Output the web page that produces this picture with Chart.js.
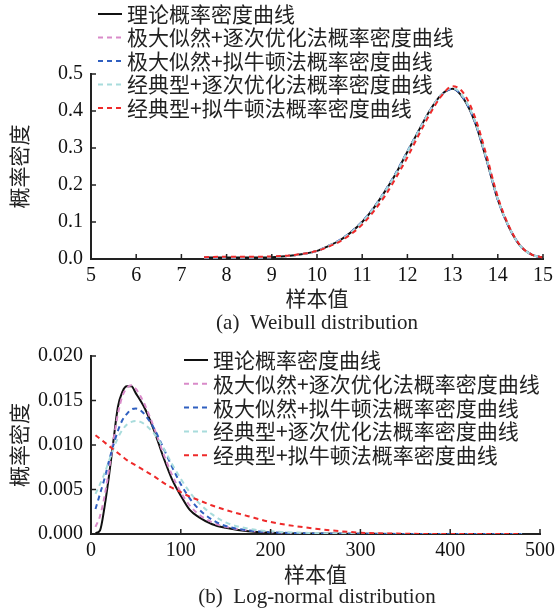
<!DOCTYPE html>
<html><head><meta charset="utf-8">
<script src="https://cdn.jsdelivr.net/npm/chart.js@4.4.1/dist/chart.umd.min.js"></script>
<style>
html,body{margin:0;padding:0;background:#fff;}
#wrap{position:relative;width:560px;height:615px;overflow:hidden;}
canvas{position:absolute;left:0;}
#c1{top:0;} #c2{top:336px;}
</style></head><body>
<div id="wrap"><canvas id="c1" width="560" height="336"></canvas><canvas id="c2" width="560" height="279"></canvas></div>
<script>
const seriesLabels = ['理论概率密度曲线','极大似然+逐次优化法概率密度曲线','极大似然+拟牛顿法概率密度曲线','经典型+逐次优化法概率密度曲线','经典型+拟牛顿法概率密度曲线'];
const axisXTitle = '样本值';
const axisYTitle = '概率密度';
const captionA = '(a)  Weibull distribution';
const captionB = '(b)  Log-normal distribution';

// (a) Weibull
const weibullX =      [7.5,8,8.5,9,9.5,10,10.25,10.5,10.75,11,11.25,11.5,11.75,12,12.25,12.5,12.75,13,13.25,13.5,13.75,14,14.25,14.5,14.75,15];
const weibullTheory = [0.004,0.004,0.004,0.005,0.010,0.022,0.035,0.050,0.072,0.100,0.137,0.182,0.232,0.290,0.347,0.402,0.444,0.460,0.432,0.368,0.268,0.160,0.085,0.035,0.012,0.004];
const weibullMLSO =   [0.004,0.004,0.004,0.005,0.010,0.022,0.035,0.051,0.073,0.101,0.138,0.183,0.233,0.290,0.346,0.401,0.443,0.461,0.434,0.370,0.270,0.161,0.086,0.035,0.012,0.004];
const weibullMLQN =   [0.004,0.004,0.004,0.005,0.010,0.022,0.035,0.051,0.073,0.101,0.138,0.183,0.234,0.291,0.347,0.401,0.443,0.460,0.433,0.369,0.269,0.161,0.085,0.035,0.012,0.004];
const weibullCLSO =   [0.004,0.004,0.004,0.005,0.010,0.022,0.035,0.050,0.072,0.100,0.137,0.182,0.232,0.290,0.346,0.401,0.444,0.462,0.435,0.371,0.271,0.162,0.086,0.035,0.012,0.004];
const weibullCLQN =   [0.005,0.006,0.006,0.007,0.011,0.022,0.033,0.047,0.067,0.093,0.128,0.170,0.220,0.275,0.335,0.392,0.440,0.467,0.447,0.382,0.280,0.168,0.088,0.036,0.012,0.004];
const weibullXTicks = [5,6,7,8,9,10,11,12,13,14,15];
const weibullYTicks = [0,0.1,0.2,0.3,0.4,0.5];

// (b) Log-normal
const lognormX =      [5,10,15,20,25,30,35,40,45,50,55,60,70,80,90,100,110,120,135,150,175,200,250,300,350,400,450,480];
const lognormTheory = [0.0001,0.0004,0.0030,0.0065,0.0105,0.0143,0.0160,0.0166,0.0166,0.0158,0.0150,0.0141,0.0117,0.0088,0.0062,0.0043,0.0027,0.0019,0.0011,0.0007,0.0003,0.00015,0.00005,0.00002,0,0,0,0];
const lognormMLSO =   [0.0008,0.0020,0.0042,0.0072,0.0105,0.0135,0.0155,0.0164,0.0167,0.0163,0.0155,0.0145,0.0120,0.0092,0.0067,0.0047,0.0032,0.0022,0.0013,0.0008,0.0004,0.0002,0.00005,0,0,0,0,0];
const lognormMLQN =   [0.0028,0.0045,0.0062,0.0082,0.0100,0.0116,0.0128,0.0135,0.0140,0.0141,0.0139,0.0134,0.0119,0.0098,0.0076,0.0056,0.0040,0.0028,0.0016,0.0009,0.0004,0.0002,0.00006,0.00002,0,0,0,0];
const lognormCLSO =   [0.0045,0.0056,0.0068,0.0082,0.0096,0.0108,0.0117,0.0123,0.0126,0.0127,0.0126,0.0123,0.0113,0.0098,0.0079,0.0062,0.0047,0.0035,0.0022,0.0013,0.0006,0.0003,0.0001,0.00003,0,0,0,0];
const lognormCLQN =   [0.0111,0.0107,0.0103,0.0099,0.0095,0.0091,0.0087,0.0083,0.0080,0.0077,0.0074,0.0071,0.0065,0.0058,0.0052,0.0047,0.0042,0.0038,0.0032,0.0027,0.0020,0.00135,0.0006,0.00015,0.00003,0,0,0];
const lognormXTicks = [0,100,200,300,400,500];
const lognormYTicks = [0,0.005,0.010,0.015,0.020];

const styles = [
  {color:'#111111', dash:[], width:2, order:4},
  {color:'#d98bc9', dash:[5,4], width:2, order:3},
  {color:'#2f5fc0', dash:[5,4], width:2, order:2},
  {color:'#a8dcdc', dash:[5,4], width:2, order:1},
  {color:'#ee2a2a', dash:[5,4], width:2, order:0}
];

function makeDatasets(xs, seriesList){
  return seriesList.map((ys,i)=>({
    label: seriesLabels[i],
    data: xs.map((x,j)=>({x:x,y:ys[j]})),
    borderColor: styles[i].color,
    borderDash: styles[i].dash,
    borderWidth: styles[i].width,
    order: styles[i].order,
    pointRadius: 0,
    fill: false,
    cubicInterpolationMode: 'monotone'
  }));
}

const deco = {
  id:'deco',
  afterDatasetsDraw(chart, args, o){
    const ctx=chart.ctx, a=chart.chartArea;
    const xs=chart.scales.x, ys=chart.scales.y;
    ctx.save();
    ctx.strokeStyle='#222'; ctx.lineWidth=1.5; ctx.setLineDash([]);
    xs.ticks.forEach(t=>{const p=xs.getPixelForValue(t.value); ctx.beginPath(); ctx.moveTo(p,a.bottom); ctx.lineTo(p,a.bottom-5); ctx.stroke();});
    ys.ticks.forEach(t=>{const p=ys.getPixelForValue(t.value); ctx.beginPath(); ctx.moveTo(a.left,p); ctx.lineTo(a.left+5,p); ctx.stroke();});
    // legend
    ctx.font='21px "Noto Sans CJK SC"';
    ctx.textBaseline='middle'; ctx.textAlign='left';
    chart.data.datasets.forEach((ds,i)=>{
      const y=o.legendY+i*o.legendDY;
      ctx.strokeStyle=ds.borderColor; ctx.lineWidth=2; ctx.setLineDash(ds.borderDash||[]);
      ctx.beginPath(); ctx.moveTo(o.legendX,y); ctx.lineTo(o.legendX+24,y); ctx.stroke();
      ctx.setLineDash([]);
      ctx.fillStyle='#222'; ctx.fillText(ds.label,o.legendX+29,y);
    });
    // axis titles
    ctx.fillStyle='#222';
    ctx.textAlign='center';
    ctx.font='21px "Noto Sans CJK SC"';
    ctx.fillText(axisXTitle,(a.left+a.right)/2,o.xTitleY);
    ctx.save();
    ctx.translate(19,(a.top+a.bottom)/2);
    ctx.rotate(-Math.PI/2);
    ctx.fillText(axisYTitle,0,0);
    ctx.restore();
    ctx.font='21px "Liberation Serif"';
    ctx.fillText(o.caption,317,o.captionY);
    ctx.restore();
  }
};

function makeChart(id, xs, seriesList, xr, yr, xTicks, yTicks, decimals, pad, decoOpts){
  return new Chart(document.getElementById(id), {
    type:'line',
    data:{datasets: makeDatasets(xs, seriesList)},
    options:{
      responsive:false, animation:false,
      layout:{padding:pad},
      plugins:{legend:{display:false}, tooltip:{enabled:false}, deco:decoOpts},
      scales:{
        x:{type:'linear', min:xr[0], max:xr[1],
           afterBuildTicks:s=>{s.ticks=xTicks.map(v=>({value:v}));},
           afterFit:s=>{s.height=40;},
           grid:{display:false, drawTicks:false},
           border:{display:true,color:'#222',width:2},
           ticks:{padding:5, color:'#111', font:{family:'"Liberation Serif"', size:20}, maxRotation:0, autoSkip:false, callback:v=>String(v)}},
        y:{min:yr[0], max:yr[1],
           afterBuildTicks:s=>{s.ticks=yTicks.map(v=>({value:v}));},
           afterFit:s=>{s.width=91;},
           grid:{display:false, drawTicks:false},
           border:{display:true,color:'#222',width:2},
           ticks:{padding:8, color:'#111', font:{family:'"Liberation Serif"', size:20}, autoSkip:false, callback:v=>Number(v).toFixed(decimals)}}
      }
    },
    plugins:[deco]
  });
}

makeChart('c1', weibullX, [weibullTheory,weibullMLSO,weibullMLQN,weibullCLSO,weibullCLQN],
  [5,15],[0,0.5], weibullXTicks, weibullYTicks, 1,
  {left:0,right:17,top:74,bottom:37},
  {legendX:98, legendY:14, legendDY:23.5, xTitleY:298, captionY:323, caption:captionA});

makeChart('c2', lognormX, [lognormTheory,lognormMLSO,lognormMLQN,lognormCLSO,lognormCLQN],
  [0,500],[0,0.02], lognormXTicks, lognormYTicks, 3,
  {left:0,right:17,top:17,bottom:41},
  {legendX:184, legendY:24, legendDY:23.8, xTitleY:238, captionY:261, caption:captionB});
</script>
</body></html>
